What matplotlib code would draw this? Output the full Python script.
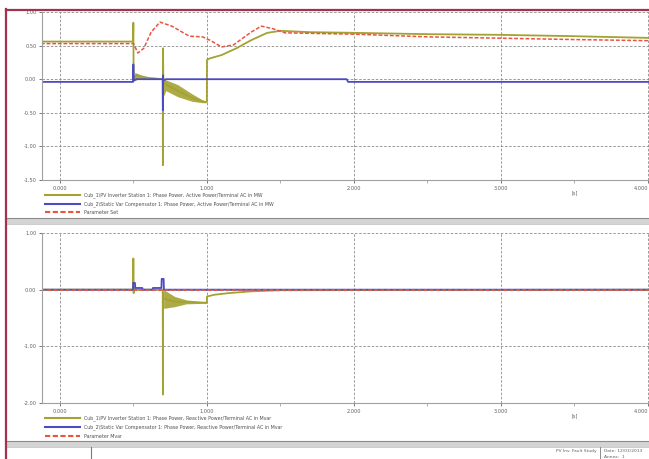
import matplotlib
matplotlib.use("Agg")
import matplotlib.pyplot as plt
from matplotlib.lines import Line2D
from matplotlib.patches import Rectangle

W, H = 649, 459

# ---- top panel: active power [MW] ----
t_p_olive = [-0.13, 0.497, 0.499, 0.501, 0.503, 0.51, 0.53, 0.56, 0.60, 0.65, 0.699, 0.700, 0.701,
             0.703, 0.72, 0.80, 0.90, 0.97, 0.999, 1.000, 1.02, 1.10, 1.20, 1.30, 1.41, 1.50,
             1.70, 2.00, 2.50, 3.00, 3.50, 4.10]
p_olive = [0.56, 0.56, 0.84, -0.02, 0.02, 0.05, 0.06, 0.04, 0.02, 0.01, 0.0, -1.28, 0.46,
           -0.02, -0.08, -0.17, -0.28, -0.33, -0.34, 0.29, 0.31, 0.36, 0.46, 0.58, 0.69, 0.72,
           0.70, 0.69, 0.67, 0.66, 0.64, 0.61]
# envelope of the fast oscillation after the events
t_p_env = [0.703, 0.72, 0.80, 0.90, 0.97, 0.999]
p_env_hi = [0.02, -0.01, -0.08, -0.22, -0.31, -0.34]
p_env_lo = [-0.26, -0.17, -0.26, -0.33, -0.35, -0.35]
t_p_env0 = [0.503, 0.51, 0.53, 0.56, 0.60]
p_env0_hi = [0.02, 0.10, 0.08, 0.04, 0.01]
p_env0_lo = [-0.03, -0.02, 0.0, 0.0, 0.0]

t_p_blue = [-0.13, 0.497, 0.499, 0.502, 0.52, 0.699, 0.700, 0.701, 0.703, 0.72, 1.95, 1.96, 4.10]
p_blue = [-0.04, -0.04, 0.22, -0.02, 0.0, 0.0, -0.46, 0.06, -0.02, 0.0, 0.0, -0.04, -0.04]

t_p_red = [-0.13, 0.50, 0.53, 0.57, 0.62, 0.68, 0.76, 0.88, 0.97, 1.02, 1.10, 1.18, 1.30, 1.37,
           1.45, 1.53, 2.00, 2.50, 3.00, 3.50, 4.10]
p_red = [0.53, 0.53, 0.39, 0.46, 0.70, 0.85, 0.79, 0.64, 0.63, 0.58, 0.48, 0.51, 0.70, 0.79,
         0.75, 0.69, 0.67, 0.63, 0.61, 0.59, 0.57]

# ---- bottom panel: reactive power [Mvar] ----
t_q_olive = [-0.13, 0.497, 0.499, 0.501, 0.503, 0.52, 0.60, 0.699, 0.700, 0.701, 0.705, 0.78,
             0.86, 0.999, 1.000, 1.05, 1.15, 1.30, 1.50, 4.10]
q_olive = [0.0, 0.0, 0.55, -0.06, 0.03, 0.0, 0.0, 0.0, -1.85, -0.05, -0.16, -0.21, -0.22,
           -0.23, -0.12, -0.09, -0.06, -0.03, -0.01, 0.0]
t_q_env = [0.705, 0.78, 0.86, 0.999]
q_env_hi = [0.0, -0.12, -0.18, -0.22]
q_env_lo = [-0.33, -0.30, -0.25, -0.24]

t_q_blue = [-0.13, 0.497, 0.498, 0.51, 0.512, 0.56, 0.562, 0.63, 0.632, 0.69, 0.692, 0.705, 0.707, 4.10]
q_blue = [0.0, 0.0, 0.12, 0.12, 0.03, 0.03, 0.0, 0.0, 0.03, 0.03, 0.19, 0.19, 0.0, 0.0]

t_q_red = [-0.13, 4.10]
q_red = [0.0, 0.0]

x_ticks = [0, 1, 2, 3, 4]
x_labels = ["0.000", "1.000", "2.000", "3.000", "4.000"]
p_ticks = [1.0, 0.5, 0.0, -0.5, -1.0, -1.5]
p_labels = ["1.00", "0.50", "0.00", "-0.50", "-1.00", "-1.50"]
q_ticks = [1.0, 0.0, -1.0, -2.0]
q_labels = ["1.00", "0.00", "-1.00", "-2.00"]

legend_top = [
    "Cub_1\\PV Inverter Station 1: Phase Power, Active Power/Terminal AC in MW",
    "Cub_2\\Static Var Compensator 1: Phase Power, Active Power/Terminal AC in MW",
    "Parameter Set",
]
legend_bot = [
    "Cub_1\\PV Inverter Station 1: Phase Power, Reactive Power/Terminal AC in Mvar",
    "Cub_2\\Static Var Compensator 1: Phase Power, Reactive Power/Terminal AC in Mvar",
    "Parameter Mvar",
]

OLIVE = "#a3a232"
BLUE = "#4b4bc4"
RED = "#e8553f"
GRID = "#8a8a8a"
FRAME = "#a3324e"


def fx(px):
    return px / W


def fy(py):
    return 1 - py / H


fig = plt.figure(figsize=(W / 100, H / 100), dpi=100)
fig.patch.set_facecolor("white")


def make_axes(top, bottom, ylim, yticks, ylabels):
    ax = fig.add_axes([fx(42), fy(bottom), fx(649) - fx(42), (bottom - top) / H])
    ax.set_xlim(-0.1224, 4.007)
    ax.set_ylim(*ylim)
    for s in ["top", "right"]:
        ax.spines[s].set_visible(False)
    for s in ["left", "bottom"]:
        ax.spines[s].set_color("#a0a0a0")
        ax.spines[s].set_linewidth(0.8)
    ax.set_xticks(x_ticks)
    ax.set_xticklabels(x_labels)
    ax.get_xticklabels()[-1].set_horizontalalignment("right")
    ax.set_xticks([0.5, 1.5, 2.5, 3.5], minor=True)
    ax.set_yticks(yticks)
    ax.set_yticklabels(ylabels)
    ax.tick_params(axis="both", labelsize=3.6, colors="#606060", length=2, width=0.6, pad=2)
    ax.tick_params(axis="x", which="minor", length=2, width=0.6, colors="#a0a0a0")
    ax.grid(True, which="major", color=GRID, linestyle=(0, (3, 2)), linewidth=0.6)
    ax.text(3.5, -0.06, "[s]", transform=ax.get_xaxis_transform(), fontsize=3.6,
            color="#606060", ha="center", va="top")
    return ax


ax1 = make_axes(12, 180, (-1.5, 1.0), p_ticks, p_labels)
ax1.fill_between(t_p_env0, p_env0_lo, p_env0_hi, color=OLIVE, lw=0, alpha=0.9)
ax1.fill_between(t_p_env, p_env_lo, p_env_hi, color=OLIVE, lw=0, alpha=0.9)
ax1.plot(t_p_olive, p_olive, color=OLIVE, lw=1.3)
ax1.plot(t_p_blue, p_blue, color=BLUE, lw=1.3)
ax1.plot(t_p_red, p_red, color=RED, lw=1.1, linestyle=(0, (2.5, 1.2)))

ax2 = make_axes(233, 403, (-2.0, 1.0), q_ticks, q_labels)
ax2.fill_between(t_q_env, q_env_lo, q_env_hi, color=OLIVE, lw=0, alpha=0.9)
ax2.plot(t_q_olive, q_olive, color=OLIVE, lw=1.3)
ax2.plot(t_q_blue, q_blue, color=BLUE, lw=1.3)
ax2.plot(t_q_red, q_red, color=RED, lw=1.2, linestyle=(0, (2.5, 1.2)))


def legend(rows_y, labels):
    colors = [OLIVE, BLUE, RED]
    styles = ["-", "-", (0, (2.5, 1.2))]
    for y, lab, c, ls in zip(rows_y, labels, colors, styles):
        fig.add_artist(Line2D([fx(45), fx(80)], [fy(y), fy(y)], color=c, lw=1.5, linestyle=ls))
        fig.text(fx(84), fy(y), lab, fontsize=3.4, color="#505050", va="center", ha="left")


legend([195, 204, 212], legend_top)
legend([418, 427, 436], legend_bot)

# separator bands
for y0 in [218, 441]:
    fig.add_artist(Rectangle((fx(5), fy(y0 + 6)), 1, 6 / H, color="#d4d4d4", lw=0))
    fig.add_artist(Line2D([fx(5), 1], [fy(y0), fy(y0)], color="#8c8c8c", lw=0.8))
    fig.add_artist(Line2D([fx(5), 1], [fy(y0 + 6), fy(y0 + 6)], color="#b8b8b8", lw=0.5))

# bottom info strip
fig.add_artist(Line2D([fx(91), fx(91)], [fy(447), 0], color="#7a7a7a", lw=0.8))
fig.add_artist(Line2D([fx(600), fx(600)], [fy(447), 0], color="#7a7a7a", lw=0.6))
fig.text(fx(597), fy(451), "PV Inv. Fault Study", fontsize=3.2, color="#606060", ha="right", va="center")
fig.text(fx(604), fy(451), "Date: 12/03/2013", fontsize=3.2, color="#606060", ha="left", va="center")
fig.text(fx(604), fy(457), "Annex:  1", fontsize=3.2, color="#606060", ha="left", va="center")

# outer frame
fig.add_artist(Line2D([fx(5.5), fx(5.5)], [0, fy(9)], color=FRAME, lw=1.6))
fig.add_artist(Line2D([fx(5.5), 1], [fy(9.5), fy(9.5)], color=FRAME, lw=1.6))

fig.savefig("out.png", dpi=100)
